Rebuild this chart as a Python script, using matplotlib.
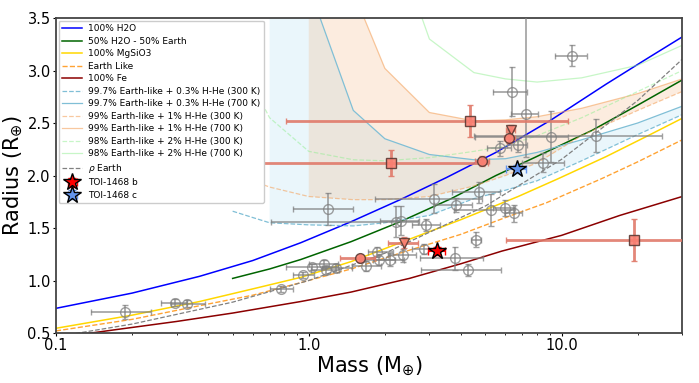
"""Mass-radius diagram for TOI-1468 b and c with composition models."""
import numpy as np
import matplotlib
matplotlib.use("Agg")
import matplotlib.pyplot as plt
from matplotlib.ticker import NullFormatter

# --- composition curves (mass in M_earth, radius in R_earth) ---
h2o_m = [0.1, 0.2, 0.37, 0.6, 0.93, 1.47, 2.3, 3.5, 5.5, 9.1, 15, 22, 30]
h2o_r = [0.735, 0.88, 1.04, 1.19, 1.36, 1.56, 1.77, 1.98, 2.22, 2.53, 2.87, 3.12, 3.32]
half_m = [0.5, 0.7, 0.93, 1.47, 2.3, 3.66, 5.5, 7.8, 13.2, 20, 30]
half_r = [1.02, 1.11, 1.20, 1.37, 1.56, 1.78, 2.00, 2.17, 2.43, 2.67, 2.91]
mgsio3_m = [0.1, 0.2, 0.37, 0.6, 0.93, 1.47, 2.36, 4.0, 6.73, 9.7, 15, 22, 30]
mgsio3_r = [0.545, 0.67, 0.80, 0.92, 1.03, 1.18, 1.37, 1.58, 1.80, 1.97, 2.18, 2.38, 2.545]
earth_m = [0.1, 0.2, 0.37, 0.6, 0.93, 1.47, 2.36, 4.0, 6.0, 8.7, 14.4, 20, 30]
earth_r = [0.52, 0.63, 0.76, 0.86, 0.98, 1.11, 1.27, 1.44, 1.60, 1.74, 1.97, 2.13, 2.34]
fe_m = [0.12, 0.17, 0.3, 0.5, 0.93, 1.47, 2.5, 4.0, 5.8, 10, 17, 30]
fe_r = [0.48, 0.53, 0.61, 0.69, 0.80, 0.89, 1.02, 1.16, 1.28, 1.43, 1.62, 1.80]
rho_m = [0.1, 0.2, 0.5, 1, 2, 5, 10, 20, 30]
rho_r = [0.464, 0.585, 0.794, 1.0, 1.26, 1.71, 2.154, 2.714, 3.107]

# --- H-He envelope models, common mass grid ---
hhe_m = [0.5, 0.6, 0.7, 1.0, 1.5, 2.0, 3.0, 4.5, 6.0, 8.0, 12.0, 20.0, 30.0]
nan = np.nan
hhe03_300 = [1.66, 1.60, 1.55, 1.53, 1.52, 1.55, 1.62, 1.78, 1.86, 1.95, 2.14, 2.39, 2.58]
hhe03_700 = [nan, nan, 9.0, 3.8, 2.62, 2.35, 2.20, 2.15, 2.16, 2.22, 2.34, 2.50, 2.66]
hhe1_300 = [2.02, 1.95, 1.89, 1.80, 1.77, 1.77, 1.80, 1.90, 2.00, 2.12, 2.38, 2.62, 2.80]
hhe1_700 = [nan, nan, nan, 6.5, 3.75, 3.02, 2.60, 2.52, 2.53, 2.56, 2.64, 2.78, 2.92]
hhe2_300 = [3.18, 2.86, 2.55, 2.23, 2.15, 2.14, 2.17, 2.23, 2.28, 2.38, 2.55, 2.80, 3.00]
hhe2_700 = [nan, nan, nan, nan, nan, 4.5, 3.30, 2.98, 2.92, 2.89, 2.93, 3.05, 3.24]

# --- other known planets (gray) ---
g_m = [0.188, 0.296, 0.33, 0.774, 0.945, 1.03, 1.15, 1.17, 1.28, 1.19, 1.68, 1.86,
       1.89, 2.09, 2.35, 2.85, 2.21, 2.32, 2.91, 3.13, 3.83, 3.8, 4.27, 4.6, 4.7,
       5.27, 5.96, 6.5, 5.69, 6.7, 8.45, 9.04, 6.37, 7.2, 10.96, 13.7]
g_r = [0.70, 0.79, 0.78, 0.92, 1.05, 1.13, 1.16, 1.10, 1.12, 1.68, 1.14, 1.27,
       1.20, 1.20, 1.24, 1.30, 1.56, 1.57, 1.53, 1.78, 1.72, 1.21, 1.10, 1.39, 1.84,
       1.67, 1.69, 1.64, 2.26, 2.29, 2.12, 2.37, 2.80, 2.59, 3.14, 2.38]
g_mlo = [0.05, 0.035, 0.045, 0.07, 0.08, 0.22, 0.15, 0.15, 0.15, 0.32, 0.2, 0.15,
         0.3, 0.3, 0.3, 0.3, 1.5, 0.4, 0.35, 1.3, 0.7, 1.05, 1.5, 0.2, 1.0,
         1.5, 0.6, 0.5, 0.6, 0.6, 1.5, 4.5, 1.0, 0.9, 1.5, 9.2]
g_mhi = [0.05, 0.035, 0.06, 0.09, 0.10, 0.27, 0.15, 0.15, 0.2, 0.30, 0.25, 0.3,
         0.3, 0.3, 0.3, 0.3, 0.5, 0.4, 0.4, 1.7, 0.6, 1.1, 1.5, 0.2, 1.0,
         1.2, 0.6, 0.5, 0.6, 0.6, 1.8, 1.6, 0.9, 0.9, 1.7, 11.3]
g_rlo = [0.065, 0.03, 0.03, 0.03, 0.03, 0.03, 0.04, 0.04, 0.04, 0.15, 0.05, 0.05,
         0.05, 0.06, 0.06, 0.05, 0.15, 0.14, 0.06, 0.14, 0.07, 0.11, 0.06, 0.07, 0.1,
         0.15, 0.08, 0.08, 0.07, 0.07, 0.09, 0.24, 0.23, 0.41, 0.10, 0.16]
g_rhi = [0.065, 0.03, 0.03, 0.03, 0.03, 0.03, 0.04, 0.04, 0.04, 0.15, 0.05, 0.05,
         0.05, 0.06, 0.06, 0.05, 0.15, 0.14, 0.06, 0.14, 0.07, 0.11, 0.06, 0.07, 0.1,
         0.15, 0.08, 0.08, 0.07, 0.07, 0.09, 0.24, 0.23, 1.00, 0.10, 0.16]

# --- highlighted planets (salmon) ---
s_m = [4.35, 2.11, 4.83, 6.3, 6.22, 1.59, 2.37, 19.3]
s_r = [2.52, 2.12, 2.14, 2.43, 2.36, 1.21, 1.36, 1.39]
s_mark = ["s", "s", "o", "v", "o", "o", "v", "s"]
s_mlo = [3.54, 1.61, 0.3, 0.25, 0.3, 0.26, 0.31, 13.25]
s_mhi = [6.25, 3.0, 0.35, 0.25, 0.3, 0.24, 0.33, 20.0]
s_rerr = [0.15, 0.12, 0.05, 0.05, 0.05, 0.03, 0.05, 0.2]

# --- TOI-1468 ---
toi_names = ["TOI-1468 b", "TOI-1468 c"]
toi_m = [3.21, 6.64]
toi_merr = [0.24, 0.6]
toi_r = [1.28, 2.06]
toi_rerr = [0.04, 0.04]
toi_col = ["red", "cornflowerblue"]

fig = plt.figure(figsize=(6.99, 3.83), dpi=100)
ax = fig.add_axes([0.080, 0.1305, 0.896, 0.8225])

sky = "#87ceeb"
peach = "#f4a460"
lgreen = "#90ee90"

ax.plot(h2o_m, h2o_r, color="blue", lw=1.1, label="100% H2O")
ax.plot(half_m, half_r, color="darkgreen", lw=1.1, label="50% H2O - 50% Earth")
ax.plot(mgsio3_m, mgsio3_r, color="gold", lw=1.1, label="100% MgSiO3")
ax.plot(earth_m, earth_r, color="darkorange", ls="--", lw=1.0, alpha=0.8, label="Earth Like")
ax.plot(fe_m, fe_r, color="darkred", lw=1.1, label="100% Fe")

m = np.array(hhe_m)
for lo, hi, col, lcol, a_line, a_fill, labs in [
        (hhe03_300, hhe03_700, sky, "#80bfd6", 1.0, 0.17,
         ("99.7% Earth-like + 0.3% H-He (300 K)", "99.7% Earth-like + 0.3% H-He (700 K)")),
        (hhe1_300, hhe1_700, peach, peach, 0.6, 0.2,
         ("99% Earth-like + 1% H-He (300 K)", "99% Earth-like + 1% H-He (700 K)")),
        (hhe2_300, hhe2_700, lgreen, lgreen, 0.5, 0.0,
         ("98% Earth-like + 2% H-He (300 K)", "98% Earth-like + 2% H-He (700 K)"))]:
    lo = np.array(lo); hi = np.array(hi)
    ax.plot(m, lo, color=lcol, ls="--", lw=0.9, alpha=a_line, label=labs[0])
    ax.plot(m, hi, color=lcol, ls="-", lw=0.9, alpha=a_line, label=labs[1])
    if a_fill > 0:
        ok = ~np.isnan(hi)
        ax.fill_between(m[ok], lo[ok], hi[ok], color=col, alpha=a_fill, lw=0)

ax.plot(rho_m, rho_r, color="gray", ls="--", lw=0.9, label=r"$\rho$ Earth")

ax.errorbar(g_m, g_r, xerr=[g_mlo, g_mhi], yerr=[g_rlo, g_rhi], fmt="o", ms=7,
            mfc="none", mec="gray", ecolor="gray", elinewidth=1.2, capsize=2,
            alpha=0.75, zorder=4)

for mm, rr, mk, lo, hi, re in zip(s_m, s_r, s_mark, s_mlo, s_mhi, s_rerr):
    ax.errorbar([mm], [rr], xerr=[[lo], [hi]], yerr=[[re], [re]], fmt=mk, ms=7,
                mfc="salmon", mec="#5a3a34", ecolor="#e07a6a", elinewidth=2,
                capsize=2, alpha=0.9, zorder=5)

for name, mm, me, rr, re, col in zip(toi_names, toi_m, toi_merr, toi_r, toi_rerr, toi_col):
    ax.errorbar([mm], [rr], xerr=[me], yerr=[re], fmt="*", ms=13, mfc=col, mec="black",
                mew=1.0, ecolor=col, elinewidth=1.5, capsize=3, zorder=6, label=name)

ax.set_xscale("log")
ax.set_xlim(0.1, 30)
ax.set_ylim(0.5, 3.5)
ax.set_xticks([0.1, 1, 10])
ax.set_xticklabels(["0.1", "1.0", "10.0"])
ax.xaxis.set_minor_formatter(NullFormatter())
ax.set_yticks([0.5, 1.0, 1.5, 2.0, 2.5, 3.0, 3.5])
ax.tick_params(labelsize=10.5, length=2.5, pad=1.2)
ax.tick_params(which="minor", length=1.5)
ax.set_xlabel(r"Mass (M$_{\oplus}$)", fontsize=15, labelpad=1)
ax.set_ylabel(r"Radius (R$_{\oplus}$)", fontsize=15)
ax.yaxis.set_label_coords(-0.05, 0.5)
for sp in ax.spines.values():
    sp.set_color("#444444")
    sp.set_linewidth(1.3)

ax.legend(loc="upper left", fontsize=6.45, labelspacing=0.39, handlelength=2.2,
          handletextpad=0.7, borderaxespad=0.3, framealpha=1.0)

fig.savefig("out.png", dpi=100)
